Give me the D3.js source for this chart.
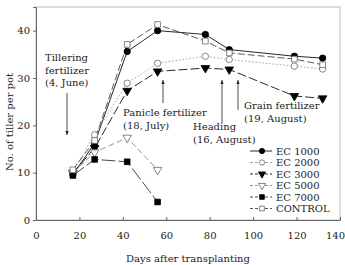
<!DOCTYPE html>
<html lang="en">
<head>
    <meta charset="UTF-8">
    <title>Tillers per pot</title>
    <style>
        body { margin: 0; background: #fff; }
        text { font-family: "DejaVu Serif", serif; font-size: 10px; fill: #222; }
    </style>
</head>
<body>
    <div id="container"></div>

    <script type="text/javascript" src="https://d3js.org/d3.v7.min.js"></script>
    <script type="text/javascript">
        // Days after transplanting where counts were taken.
        var days = [17, 27, 42, 56, 78, 89, 119, 132];

        var ec1000 = [9.6, 16.2, 35.6, 40.0, 39.2, 36.0, 34.6, 34.2];
        var ec2000 = [10.4, 18.0, 28.9, 33.1, 34.6, 33.9, 32.5, 31.9];
        var ec3000 = [9.9, 15.2, 27.3, 31.4, 32.1, 31.8, 26.2, 25.7];
        var ec5000 = [10.0, 14.3, 17.4, 10.6];
        var ec7000 = [9.4, 12.8, 12.3, 3.8];
        var control = [10.6, 16.8, 37.1, 41.3, 37.8, 35.3, 34.0, 32.8];

        var seriesNames = ["EC 1000", "EC 2000", "EC 3000", "EC 5000", "EC 7000", "CONTROL"];
        var xTicks = [0, 20, 40, 60, 80, 100, 120, 140];
        var yTicks = [0, 10, 20, 30, 40];

        var series = [
            { name: seriesNames[0], values: ec1000, symbol: d3.symbolCircle, filled: true, stroke: "#111", dash: null },
            { name: seriesNames[1], values: ec2000, symbol: d3.symbolCircle, filled: false, stroke: "#999", dash: "1.5,2" },
            { name: seriesNames[2], values: ec3000, symbol: "down", filled: true, stroke: "#111", dash: "9,3" },
            { name: seriesNames[3], values: ec5000, symbol: "down", filled: false, stroke: "#888", dash: "6,3" },
            { name: seriesNames[4], values: ec7000, symbol: d3.symbolSquare, filled: true, stroke: "#333", dash: "14,3" },
            { name: seriesNames[5], values: control, symbol: d3.symbolSquare, filled: false, stroke: "#444", dash: "7,3" }
        ];

        var width = 345, height = 265;
        var margin = { top: 7, right: 5, bottom: 45, left: 36 };

        var svg = d3.select("#container")
            .append("svg")
            .attr("width", width)
            .attr("height", height);

        var x = d3.scaleLinear().domain([0, 140]).range([margin.left, width - margin.right]);
        var y = d3.scaleLinear().domain([0, 45]).range([height - margin.bottom, margin.top]);

        // Plot frame.
        svg.append("rect")
            .attr("x", x(0)).attr("y", y(45))
            .attr("width", x(140) - x(0)).attr("height", y(0) - y(45))
            .attr("fill", "none").attr("stroke", "#bbb").attr("stroke-width", 1);

        var xAxis = svg.append("g")
            .attr("transform", "translate(0," + y(0) + ")")
            .call(d3.axisBottom(x).tickValues(xTicks).tickSize(-3).tickPadding(12));
        var yAxis = svg.append("g")
            .attr("transform", "translate(" + x(0) + ",0)")
            .call(d3.axisLeft(y).tickValues(yTicks).tickSize(3).tickPadding(3));

        [xAxis, yAxis].forEach(function(g) {
            g.select(".domain").attr("stroke", "#666");
            g.selectAll(".tick line").attr("stroke", "#666");
            g.selectAll("text").style("font-family", "DejaVu Serif, serif").style("font-size", "10px").attr("fill", "#222");
        });

        // The last label sits against the right edge, as in the original.
        xAxis.selectAll(".tick text")
            .filter(function(d) { return d === 140; })
            .attr("dx", -5);

        svg.append("text")
            .attr("x", (x(0) + x(140)) / 2).attr("y", 262)
            .attr("text-anchor", "middle")
            .text("Days after transplanting");

        svg.append("text")
            .attr("transform", "translate(13,122) rotate(-90)")
            .attr("text-anchor", "middle")
            .text("No. of tiller per pot");

        function symbolPath(s, size) {
            if (s.symbol === "down") {
                return d3.symbol().type(d3.symbolTriangle).size(size)();
            }
            return d3.symbol().type(s.symbol).size(size)();
        }

        var line = d3.line()
            .x(function(d) { return x(d.day); })
            .y(function(d) { return y(d.v); });

        series.forEach(function(s) {
            var pts = s.values.map(function(v, i) { return { day: days[i], v: v }; });
            svg.append("path")
                .datum(pts)
                .attr("d", line)
                .attr("fill", "none")
                .attr("stroke", s.stroke)
                .attr("stroke-width", 0.9)
                .attr("stroke-dasharray", s.dash);
        });

        series.forEach(function(s) {
            var pts = s.values.map(function(v, i) { return { day: days[i], v: v }; });
            svg.selectAll(null)
                .data(pts)
                .enter()
                .append("path")
                .attr("d", symbolPath(s, 32))
                .attr("transform", function(d) {
                    return "translate(" + x(d.day) + "," + y(d.v) + ")" + (s.symbol === "down" ? " rotate(180)" : "");
                })
                .attr("fill", s.filled ? "#000" : "#fff")
                .attr("stroke", s.filled ? "#000" : "#666")
                .attr("stroke-width", 0.8);
        });

        // Legend.
        var legend = svg.append("g").attr("transform", "translate(250,151)");
        series.forEach(function(s, i) {
            var g = legend.append("g").attr("transform", "translate(0," + (i * 11.5) + ")");
            g.append("line")
                .attr("x1", 0).attr("x2", 22).attr("y1", 0).attr("y2", 0)
                .attr("stroke", s.stroke).attr("stroke-width", 0.9)
                .attr("stroke-dasharray", s.dash ? "3,2" : null);
            g.append("path")
                .attr("d", symbolPath(s, 22))
                .attr("transform", "translate(12,0)" + (s.symbol === "down" ? " rotate(180)" : ""))
                .attr("fill", s.filled ? "#000" : "#fff")
                .attr("stroke", s.filled ? "#000" : "#666")
                .attr("stroke-width", 0.8);
            g.append("text")
                .attr("x", 26).attr("y", 3.5)
                .text(s.name);
        });

        // Annotations with arrows.
        var defs = svg.append("defs");
        defs.append("marker")
            .attr("id", "head")
            .attr("viewBox", "0 0 10 10")
            .attr("refX", 10).attr("refY", 5)
            .attr("markerWidth", 5).attr("markerHeight", 5)
            .attr("orient", "auto")
            .append("path")
            .attr("d", "M0,1 L10,5 L0,9 Z")
            .attr("fill", "#222");

        var notes = [
            { lines: ["Tillering", "fertilizer", "(4, June)"], tx: 45, ty: 61, ax: 67, a1: 93, a2: 135 },
            { lines: ["Panicle fertilizer", "(18, July)"], tx: 123, ty: 116, ax: 163, a1: 103, a2: 80 },
            { lines: ["Heading", "(16, August)"], tx: 193, ty: 130, ax: 222, a1: 123, a2: 80 },
            { lines: ["Grain fertilizer", "(19, August)"], tx: 244, ty: 109, ax: 238, a1: 110, a2: 80 }
        ];

        notes.forEach(function(n) {
            var t = svg.append("text").attr("x", n.tx).attr("y", n.ty);
            n.lines.forEach(function(l, i) {
                t.append("tspan").attr("x", n.tx).attr("dy", i === 0 ? 0 : 12.5).text(l);
            });
            svg.append("line")
                .attr("x1", n.ax).attr("x2", n.ax)
                .attr("y1", n.a1).attr("y2", n.a2)
                .attr("stroke", "#222").attr("stroke-width", 0.8)
                .attr("marker-end", "url(#head)");
        });
    </script>
</body>
</html>
